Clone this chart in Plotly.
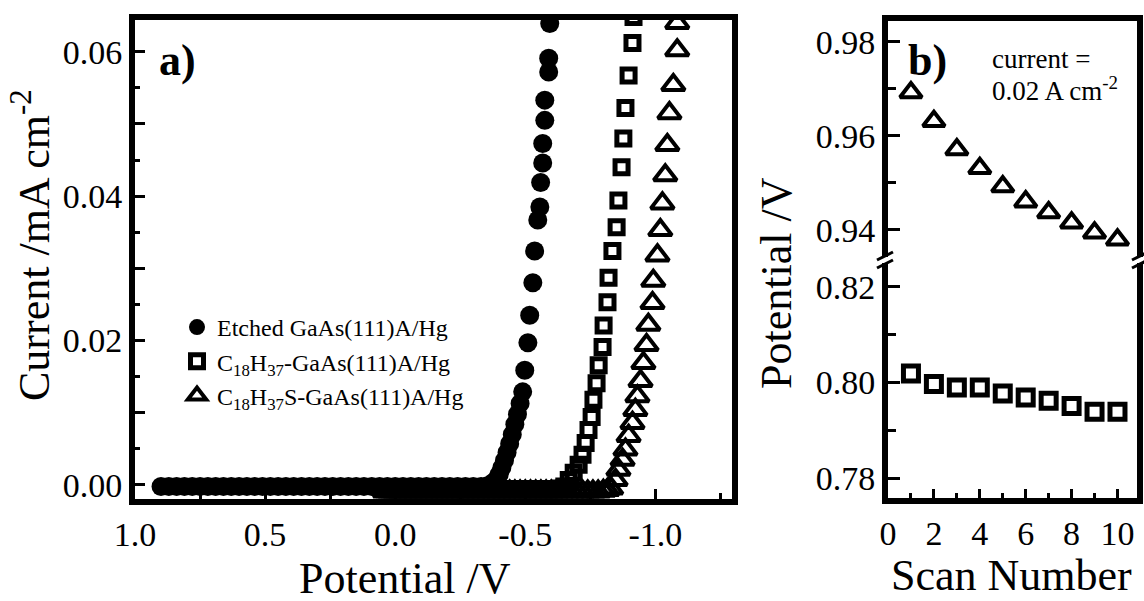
import plotly.graph_objects as go

W, H = 1144, 601

# ---------------- data: panel a (I-V curves) ----------------
etched_potential = [0.90, 0.87, 0.84, 0.81, 0.78, 0.75, 0.72, 0.69, 0.66, 0.63,
                    0.60, 0.57, 0.54, 0.51, 0.48, 0.45, 0.42, 0.39, 0.36, 0.33,
                    0.30, 0.27, 0.24, 0.21, 0.18, 0.15, 0.12, 0.09, 0.06, 0.03,
                    0.00, -0.03, -0.06, -0.09, -0.12, -0.15, -0.18, -0.21, -0.24, -0.27,
                    -0.30, -0.33, -0.355, -0.375, -0.39, -0.40, -0.41, -0.42, -0.43, -0.44,
                    -0.45, -0.46, -0.47, -0.48, -0.490, -0.498, -0.510, -0.517, -0.529, -0.536,
                    -0.548, -0.556, -0.559, -0.567, -0.567, -0.575, -0.575, -0.590, -0.590, -0.594]
etched_current = [-0.0002, -0.0002, -0.0002, -0.0002, -0.0002, -0.0002, -0.0002, -0.0002, -0.0002, -0.0002,
                  -0.0002, -0.0002, -0.0002, -0.0002, -0.0002, -0.0002, -0.0002, -0.0002, -0.0002, -0.0002,
                  -0.0002, -0.0002, -0.0002, -0.0002, -0.0002, -0.0002, -0.0002, -0.0002, -0.0002, -0.0002,
                  -0.0002, -0.0002, -0.0002, -0.0002, -0.0002, -0.0002, -0.0002, -0.0002, -0.0002, -0.0002,
                  -0.0002, -0.0002, -0.0001, 0.0003, 0.0008, 0.0015, 0.0024, 0.0034, 0.0045, 0.0057,
                  0.0070, 0.0084, 0.0098, 0.0113, 0.0129, 0.0159, 0.0197, 0.0235, 0.0280, 0.0324,
                  0.0367, 0.0385, 0.0419, 0.0446, 0.0473, 0.0505, 0.0533, 0.0572, 0.0591, 0.0639]

c18_potential = [0.04, 0.02, 0.00, -0.02, -0.04, -0.06, -0.08, -0.10, -0.12, -0.14,
                 -0.16, -0.18, -0.20, -0.22, -0.24, -0.26, -0.28, -0.30, -0.32, -0.34,
                 -0.36, -0.38, -0.40, -0.42, -0.44, -0.46, -0.48, -0.50, -0.52, -0.54,
                 -0.56, -0.58, -0.60, -0.62, -0.635, -0.650, -0.667, -0.686, -0.705, -0.720,
                 -0.732, -0.743, -0.755, -0.762, -0.774, -0.782, -0.797, -0.801, -0.816, -0.820,
                 -0.835, -0.851, -0.858, -0.870, -0.877, -0.885, -0.897, -0.912, -0.916]
c18_current = [-0.0006, -0.0006, -0.0006, -0.0006, -0.0006, -0.0006, -0.0006, -0.0006, -0.0006, -0.0006,
               -0.0006, -0.0006, -0.0006, -0.0006, -0.0006, -0.0006, -0.0006, -0.0006, -0.0006, -0.0006,
               -0.0006, -0.0006, -0.0006, -0.0006, -0.0006, -0.0006, -0.0006, -0.0006, -0.0006, -0.0006,
               -0.0006, -0.0006, -0.0006, -0.0006, -0.0005, -0.0002, 0.0007, 0.0017, 0.0028, 0.0042,
               0.0058, 0.0076, 0.0094, 0.0118, 0.0141, 0.0166, 0.0191, 0.0221, 0.0253, 0.0287,
               0.0324, 0.0357, 0.0394, 0.0440, 0.0480, 0.0522, 0.0567, 0.0612, 0.0648]

c18s_potential = [0.04, 0.02, 0.00, -0.02, -0.04, -0.06, -0.08, -0.10, -0.12, -0.14,
                  -0.16, -0.18, -0.20, -0.22, -0.24, -0.26, -0.28, -0.30, -0.32, -0.34,
                  -0.36, -0.38, -0.40, -0.42, -0.44, -0.46, -0.48, -0.50, -0.52, -0.54,
                  -0.56, -0.58, -0.60, -0.62, -0.64, -0.66, -0.68, -0.70, -0.72, -0.74,
                  -0.76, -0.78, -0.80, -0.815, -0.83, -0.847, -0.858, -0.874, -0.885, -0.897,
                  -0.912, -0.923, -0.931, -0.943, -0.954, -0.966, -0.973, -0.989, -0.992, -1.008,
                  -1.019, -1.027, -1.038, -1.046, -1.054, -1.069, -1.084, -1.084]
c18s_current = [-0.0009, -0.0009, -0.0009, -0.0009, -0.0009, -0.0009, -0.0009, -0.0009, -0.0009, -0.0009,
                -0.0009, -0.0009, -0.0009, -0.0009, -0.0009, -0.0009, -0.0009, -0.0009, -0.0009, -0.0009,
                -0.0009, -0.0009, -0.0009, -0.0009, -0.0009, -0.0009, -0.0009, -0.0009, -0.0009, -0.0009,
                -0.0009, -0.0009, -0.0009, -0.0009, -0.0009, -0.0009, -0.0009, -0.0009, -0.0009, -0.0009,
                -0.0009, -0.0009, -0.0008, -0.0007, -0.0005, 0.0007, 0.0021, 0.0035, 0.0049, 0.0068,
                0.0086, 0.0104, 0.0123, 0.0144, 0.0169, 0.0194, 0.0222, 0.0252, 0.0283, 0.0318,
                0.0353, 0.0390, 0.0429, 0.0471, 0.0515, 0.0554, 0.0602, 0.0640]

assert len(etched_potential) == len(etched_current)
assert len(c18_potential) == len(c18_current)
assert len(c18s_potential) == len(c18s_current)

legend_names = ["Etched GaAs(111)A/Hg",
                "C<sub>18</sub>H<sub>37</sub>-GaAs(111)A/Hg",
                "C<sub>18</sub>H<sub>37</sub>S-GaAs(111)A/Hg"]

# ---------------- data: panel b (potential vs scan number) ----------------
scan_number = [1, 2, 3, 4, 5, 6, 7, 8, 9, 10]
potential_c18s = [0.9692, 0.9631, 0.9571, 0.9531, 0.9492, 0.9460, 0.9437, 0.9415, 0.9394, 0.9379]
potential_c18 = [0.8019, 0.7997, 0.7990, 0.7990, 0.7977, 0.7969, 0.7962, 0.7951, 0.7939, 0.7939]

# tick labels
xa_tickvals = [1.0, 0.5, 0.0, -0.5, -1.0]
xa_ticktext = ["1.0", "0.5", "0.0", "-0.5", "-1.0"]
ya_tickvals = [0.0, 0.01, 0.02, 0.03, 0.04, 0.05, 0.06]
ya_ticktext = ["0.00", "", "0.02", "", "0.04", "", "0.06"]
xb_tickvals = [0, 2, 4, 6, 8, 10]
xb_ticktext = ["0", "2", "4", "6", "8", "10"]
yb_low_tickvals = [0.78, 0.80, 0.82]
yb_low_ticktext = ["0.78", "0.80", "0.82"]
yb_high_tickvals = [0.94, 0.96, 0.98]
yb_high_ticktext = ["0.94", "0.96", "0.98"]

FONT = "Liberation Serif"
LW = 6


def px(x):
    return x / W


def py(y):
    return (H - y) / H


fig = go.Figure()

fig.add_trace(go.Scatter(x=etched_potential, y=etched_current, mode="markers",
                         name=legend_names[0], xaxis="x", yaxis="y",
                         marker=dict(symbol="circle", size=19, color="black",
                                     line=dict(width=0))))
fig.add_trace(go.Scatter(x=c18_potential, y=c18_current, mode="markers",
                         name=legend_names[1], xaxis="x", yaxis="y",
                         marker=dict(symbol="square-open", size=13, color="black",
                                     line=dict(width=5, color="black"))))
fig.add_trace(go.Scatter(x=c18s_potential, y=c18s_current, mode="markers",
                         name=legend_names[2], xaxis="x", yaxis="y",
                         marker=dict(symbol="triangle-up-open", size=20, color="black",
                                     line=dict(width=4, color="black"))))

fig.add_trace(go.Scatter(x=scan_number, y=potential_c18, mode="markers", showlegend=False,
                         xaxis="x2", yaxis="y2",
                         marker=dict(symbol="square-open", size=15, color="black",
                                     line=dict(width=5, color="black"))))
fig.add_trace(go.Scatter(x=scan_number, y=potential_c18s, mode="markers", showlegend=False,
                         xaxis="x3", yaxis="y3",
                         marker=dict(symbol="triangle-up-open", size=19, color="black",
                                     line=dict(width=4, color="black"))))


def axcommon():
    return dict(showgrid=False, zeroline=False, showline=True, linewidth=LW, linecolor="black",
                ticks="inside", tickwidth=3, tickcolor="black", automargin=False,
                tickfont=dict(family=FONT, size=34, color="black"))


def minor(dtick, tick0, ln):
    return dict(ticks="inside", dtick=dtick, tick0=tick0, ticklen=ln, tickwidth=3,
                tickcolor="black", showgrid=False)


# plot-area inner edges in px
ax_l, ax_r, ax_t, ax_b = 135, 732, 20, 499
bx_l, bx_r, bx_t, bx_b, bx_break = 888, 1137, 20.5, 498, 260

fig.update_layout(
    template="none",
    width=W, height=H,
    margin=dict(l=0, r=0, t=0, b=0, autoexpand=False),
    paper_bgcolor="white", plot_bgcolor="white",
    font=dict(family=FONT, color="black"),
    xaxis=dict(domain=[px(ax_l), px(ax_r)], anchor="y", range=[1.0, -1.2945],
               tickmode="array", tickvals=xa_tickvals, ticktext=xa_ticktext, ticklen=10,
               mirror=True, minor=minor(0.25, 0, 6), **axcommon()),
    yaxis=dict(domain=[py(ax_b), py(ax_t)], anchor="x", range=[-0.00194, 0.0644],
               tickmode="array", tickvals=ya_tickvals, ticktext=ya_ticktext, ticklen=10,
               mirror=True, minor=minor(0.005, 0, 5), **axcommon()),
    xaxis2=dict(domain=[px(bx_l), px(bx_r)], anchor="y2", range=[0, 10.85],
                tickmode="array", tickvals=xb_tickvals, ticktext=xb_ticktext, ticklen=9,
                minor=minor(1, 0, 5), **axcommon()),
    yaxis2=dict(domain=[py(bx_b), py(bx_break)], anchor="x2", range=[0.7759, 0.8256],
                tickmode="array", tickvals=yb_low_tickvals, ticktext=yb_low_ticktext,
                ticklen=12, mirror=True, minor=minor(0.01, 0.78, 8), **axcommon()),
    xaxis3=dict(domain=[px(bx_l), px(bx_r)], anchor="y3", matches="x2", side="top",
                showgrid=False, zeroline=False, showline=True, linewidth=LW, linecolor="black",
                ticks="", showticklabels=False, automargin=False),
    yaxis3=dict(domain=[py(bx_break), py(bx_t)], anchor="x3", range=[0.9336, 0.9845],
                tickmode="array", tickvals=yb_high_tickvals, ticktext=yb_high_ticktext,
                ticklen=12, mirror=True, minor=minor(0.01, 0.94, 8), **axcommon()),
    legend=dict(x=px(177), y=py(305), xanchor="left", yanchor="top",
                bgcolor="rgba(0,0,0,0)", borderwidth=0,
                font=dict(family=FONT, size=24, color="black"),
                tracegroupgap=0, itemwidth=30),
    showlegend=True,
    hovermode=False,
)

annots = [
    dict(text="Current /mA cm<sup>-2</sup>", x=px(32), y=py(245), textangle=-90,
         font=dict(size=44)),
    dict(text="Potential /V", x=px(405), y=py(578), font=dict(size=44)),
    dict(text="Potential /V", x=px(776), y=py(283), textangle=-90, font=dict(size=44)),
    dict(text="Scan Number", x=px(1011), y=py(575), font=dict(size=44)),
    dict(text="<b>a)</b>", x=px(177), y=py(60), font=dict(size=44)),
    dict(text="<b>b)</b>", x=px(927), y=py(60), font=dict(size=44)),
    dict(text="current =", x=px(990), y=py(59), xanchor="left", font=dict(size=27)),
    dict(text="0.02 A cm<sup>-2</sup>", x=px(990), y=py(89), xanchor="left", font=dict(size=27)),
]
for a in annots:
    a.setdefault("xanchor", "center")
    a.update(xref="paper", yref="paper", yanchor="middle", showarrow=False)
    a["font"] = dict(family=FONT, color="black", **a["font"])
fig.update_layout(annotations=annots)

# axis-break decorations on panel b
shapes = []
for xc in (bx_l - LW / 2, bx_r + LW / 2):
    shapes.append(dict(type="rect", xref="paper", yref="paper",
                       x0=px(xc - 6), x1=px(xc + 6), y0=py(bx_break + 3), y1=py(bx_break - 3),
                       fillcolor="white", line=dict(width=0)))
    for dy in (-4, 4):
        shapes.append(dict(type="line", xref="paper", yref="paper",
                           x0=px(xc - 8), y0=py(bx_break + dy + 4),
                           x1=px(xc + 8), y1=py(bx_break + dy - 4),
                           line=dict(color="black", width=3)))
fig.update_layout(shapes=shapes)

fig.write_html("out.html")
